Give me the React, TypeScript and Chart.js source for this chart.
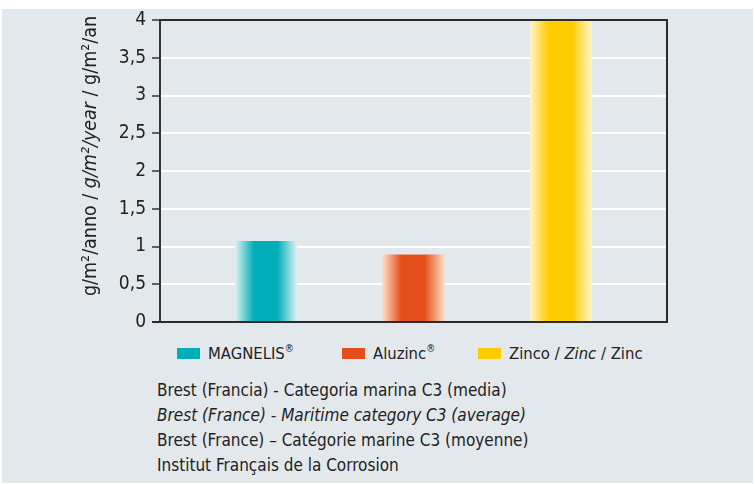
import React, { useEffect, useRef } from 'react';
import { Chart, registerables } from 'chart.js';

Chart.register(...registerables);

// ---------- data ----------
const categories = ['MAGNELIS', 'Aluzinc', 'Zinco / Zinc / Zinc'];
const categoryMarks = ['®', '®', ''];
const values = [1.07, 0.89, 4.0];
const solidColors = ['#00aeb9', '#e54e1a', '#ffcc00'];
const edgeColors = ['#d6eff0', '#fed8c0', '#fff4c6'];
const yMin = 0;
const yMax = 4;
const yStep = 0.5;
const yTitleParts: { text: string; italic: boolean }[] = [
  { text: 'g/m²/anno / ', italic: false },
  { text: 'g/m²/year', italic: true },
  { text: ' / g/m²/an', italic: false },
];
const noteLines: { text: string; italic: boolean }[] = [
  { text: 'Brest (Francia) - Categoria marina C3 (media)', italic: false },
  { text: 'Brest (France) - Maritime category C3 (average)', italic: true },
  { text: 'Brest (France) – Catégorie marine C3 (moyenne)', italic: false },
  { text: 'Institut Français de la Corrosion', italic: false },
];

const FONT = '"DejaVu Sans Condensed", "Liberation Sans Narrow", "Liberation Sans", sans-serif';
const TEXT_COLOR = '#222222';
const BAR_W = 61;

const framePlugin = {
  id: 'frame',
  afterDatasetsDraw(chart: any) {
    const { ctx, chartArea: a } = chart;
    ctx.save();
    ctx.strokeStyle = '#2b2b2b';
    ctx.lineWidth = 2;
    ctx.beginPath();
    ctx.moveTo(a.left, a.top);
    ctx.lineTo(a.right, a.top);
    ctx.lineTo(a.right, a.bottom);
    ctx.lineTo(a.left - 8, a.bottom);
    ctx.stroke();
    ctx.restore();
  },
};

const yTitlePlugin = {
  id: 'yTitleMixed',
  afterDraw(chart: any) {
    const ctx = chart.ctx;
    const size = 19.5;
    ctx.save();
    ctx.translate(96, 156);
    ctx.rotate(-Math.PI / 2);
    ctx.fillStyle = TEXT_COLOR;
    ctx.textBaseline = 'alphabetic';
    ctx.textAlign = 'left';
    let total = 0;
    const widths = yTitleParts.map((p) => {
      ctx.font = `${p.italic ? 'italic ' : ''}${size}px ${FONT}`;
      const w = ctx.measureText(p.text).width;
      total += w;
      return w;
    });
    let x = -total / 2;
    yTitleParts.forEach((p, i) => {
      ctx.font = `${p.italic ? 'italic ' : ''}${size}px ${FONT}`;
      ctx.fillText(p.text, x, 0);
      x += widths[i];
    });
    ctx.restore();
  },
};

function ChartCanvas() {
  const ref = useRef<HTMLCanvasElement | null>(null);
  useEffect(() => {
    if (!ref.current) return;
    const chart = new Chart(ref.current, {
      type: 'bar',
      data: {
        datasets: [
          {
            label: 'values',
            data: values.map((v, i) => ({ x: i + 1, y: v })),
            barThickness: BAR_W,
            borderWidth: 0,
            backgroundColor: (c: any) => {
              const i = c.dataIndex ?? 0;
              const xs = c.chart.scales?.x;
              if (c.type !== 'data' || !xs) return solidColors[i];
              const cx = xs.getPixelForValue(i + 1);
              if (!isFinite(cx)) return solidColors[i];
              const g = c.chart.ctx.createLinearGradient(cx - BAR_W / 2, 0, cx + BAR_W / 2, 0);
              g.addColorStop(0, edgeColors[i]);
              g.addColorStop(0.3, solidColors[i]);
              g.addColorStop(0.68, solidColors[i]);
              g.addColorStop(1, edgeColors[i]);
              return g;
            },
          } as any,
        ],
      },
      options: {
        animation: false,
        responsive: false,
        maintainAspectRatio: false,
        devicePixelRatio: 1,
        layout: { padding: { left: 100, top: 20, right: 88, bottom: 18 } },
        plugins: { legend: { display: false }, tooltip: { enabled: false }, title: { display: false } },
        scales: {
          x: {
            type: 'linear',
            display: false,
            min: 0.28,
            max: 3.72,
            offset: false,
          },
          y: {
            min: yMin,
            max: yMax,
            afterFit(scale: any) {
              scale.width = 60;
            },
            ticks: {
              stepSize: yStep,
              padding: 6,
              color: TEXT_COLOR,
              font: { family: FONT, size: 19 },
              callback: (v: any) => String(v).replace('.', ','),
            },
            grid: {
              color: '#ffffff',
              lineWidth: 2,
              tickColor: '#333333',
              tickWidth: 1.5,
              tickLength: 8,
            },
            border: { display: true, color: '#333333', width: 2 },
          },
        },
      } as any,
      plugins: [framePlugin, yTitlePlugin],
    });
    return () => chart.destroy();
  }, []);
  return <canvas ref={ref} width={755} height={340} style={{ position: 'absolute', left: 0, top: 0, width: 755, height: 340 }} />;
}

const legendLefts = [177, 342, 478];

export default function App() {
  return (
    <div style={{ position: 'absolute', left: 0, top: 0, width: 755, height: 484, background: '#ffffff', overflow: 'hidden' }}>
      <div style={{ position: 'absolute', left: 2, top: 9, width: 751, height: 474, background: '#e3e8ec' }} />
      <ChartCanvas />
      {categories.map((cat, i) => (
        <div
          key={cat}
          style={{
            position: 'absolute',
            left: legendLefts[i],
            top: 341,
            height: 24,
            display: 'flex',
            alignItems: 'center',
            fontFamily: FONT,
            fontSize: 16.5,
            color: TEXT_COLOR,
            whiteSpace: 'nowrap',
          }}
        >
          <span style={{ display: 'inline-block', width: 23, height: 11, background: solidColors[i], marginRight: 8 }} />
          {i === 2 ? (
            <span>
              Zinco / <i>Zinc</i> / Zinc
            </span>
          ) : (
            <span>
              {cat}
              <sup style={{ fontSize: 10, verticalAlign: 'top', position: 'relative', top: -1 }}>{categoryMarks[i]}</sup>
            </span>
          )}
        </div>
      ))}
      <div
        style={{
          position: 'absolute',
          left: 157,
          top: 378,
          fontFamily: FONT,
          fontSize: 17,
          lineHeight: '25px',
          color: TEXT_COLOR,
          whiteSpace: 'nowrap',
        }}
      >
        {noteLines.map((l, i) => (
          <div key={i} style={{ fontStyle: l.italic ? 'italic' : 'normal' }}>
            {l.text}
          </div>
        ))}
      </div>
    </div>
  );
}
